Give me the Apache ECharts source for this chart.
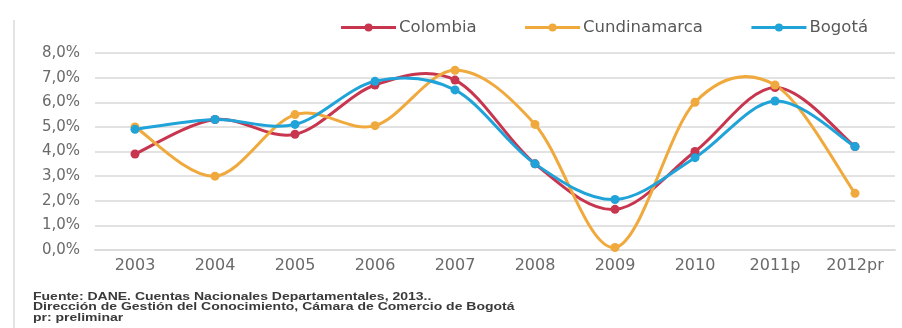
<!DOCTYPE html>
<html>
<head>
<meta charset="utf-8">
<script src="https://cdn.jsdelivr.net/npm/echarts@6/dist/echarts.min.js"></script>
<style>
  html, body { margin: 0; padding: 0; background: #fff; }
  #chart { width: 902px; height: 328px; }
</style>
</head>
<body>
<div id="chart"></div>
<script>
// Crecimiento anual del PIB (%), 2003–2012
const years = ['2003', '2004', '2005', '2006', '2007', '2008', '2009', '2010', '2011p', '2012pr'];
const colombia = [3.9, 5.3, 4.7, 6.7, 6.9, 3.5, 1.65, 4.0, 6.6, 4.2];
const cundinamarca = [5.0, 3.0, 5.5, 5.05, 7.3, 5.1, 0.1, 6.0, 6.7, 2.3];
const bogota = [4.9, 5.3, 5.1, 6.85, 6.5, 3.5, 2.05, 3.75, 6.05, 4.2];
const yTicks = { min: 0, max: 8, step: 1 };
const notes = [
  'Fuente: DANE. Cuentas Nacionales Departamentales, 2013..',
  'Dirección de Gestión del Conocimiento, Cámara de Comercio de Bogotá',
  'pr: preliminar'
];

const FONT = '"DejaVu Sans", "Liberation Sans", sans-serif';
const COLORS = { Colombia: '#c8354f', Cundinamarca: '#f0a93c', 'Bogotá': '#1fa3d8' };

// Smooth curve through every point (Catmull-Rom as cubic Béziers),
// one segment per data item, positioned with the axes' own coordinates.
function curveSeries(name, values) {
  return {
    name: name + ' ',
    type: 'custom',
    z: 2,
    silent: true,
    data: values.map((v, i) => [i, v]),
    renderItem: function (params, api) {
      const i = params.dataIndex;
      if (i >= values.length - 1) return null;
      const p = k => {
        const j = Math.max(0, Math.min(values.length - 1, k));
        return api.coord([j, values[j]]);
      };
      const p0 = p(i - 1), p1 = p(i), p2 = p(i + 1), p3 = p(i + 2);
      const c1 = [p1[0] + (p2[0] - p0[0]) / 6, p1[1] + (p2[1] - p0[1]) / 6];
      const c2 = [p2[0] - (p3[0] - p1[0]) / 6, p2[1] - (p3[1] - p1[1]) / 6];
      return {
        type: 'bezierCurve',
        shape: { x1: p1[0], y1: p1[1], x2: p2[0], y2: p2[1],
                 cpx1: c1[0], cpy1: c1[1], cpx2: c2[0], cpy2: c2[1] },
        style: { fill: null, stroke: COLORS[name], lineWidth: 3, lineCap: 'round' }
      };
    }
  };
}

// Markers (and legend entries) for each series
function pointSeries(name, values) {
  return {
    name: name,
    type: 'line',
    z: 3,
    data: values,
    symbol: 'circle',
    symbolSize: 9,
    lineStyle: { width: 3, color: COLORS[name], opacity: 0 },
    itemStyle: { color: COLORS[name] },
    emphasis: { disabled: true }
  };
}

const chart = echarts.init(document.getElementById('chart'), null, { renderer: 'canvas' });
chart.setOption({
  animation: false,
  backgroundColor: '#fff',
  legend: {
    right: 29,
    top: 14,
    itemWidth: 55,
    itemHeight: 10,
    itemGap: 47,
    lineStyle: { opacity: 1, width: 3 },
    textStyle: { fontFamily: FONT, fontSize: 16.5, color: '#585858', padding: [0, 0, 0, -2] },
    data: ['Colombia', 'Cundinamarca', 'Bogotá']
  },
  grid: { left: 95, right: 7, top: 53, bottom: 78 },
  xAxis: {
    type: 'category',
    data: years,
    boundaryGap: true,
    axisLine: { lineStyle: { color: '#dcdcdc', width: 2 } },
    axisTick: { show: false },
    axisLabel: { margin: 8, fontFamily: FONT, fontSize: 16, color: '#6a6a6a' }
  },
  yAxis: {
    type: 'value',
    min: yTicks.min,
    max: yTicks.max,
    interval: yTicks.step,
    axisLine: { show: false },
    axisTick: { show: false },
    splitLine: { lineStyle: { color: '#e2e2e2', width: 2 } },
    axisLabel: {
      margin: 15,
      fontFamily: FONT,
      fontSize: 15,
      color: '#6a6a6a',
      formatter: v => v.toFixed(1).replace('.', ',') + '%'
    }
  },
  graphic: [
    {
      type: 'line',
      shape: { x1: 14, y1: 20, x2: 14, y2: 328 },
      style: { stroke: '#e4e4e4', lineWidth: 2 }
    }
  ].concat(notes.map((t, i) => ({
    type: 'text',
    left: 33,
    top: 292 + i * 10.5,
    scaleX: 1.4,
    originX: 33,
    style: { text: t, font: 'bold 10px "Liberation Sans", Arial, sans-serif', fill: '#3a3a3a' }
  }))),
  series: [
    curveSeries('Colombia', colombia),
    curveSeries('Cundinamarca', cundinamarca),
    curveSeries('Bogotá', bogota),
    pointSeries('Colombia', colombia),
    pointSeries('Cundinamarca', cundinamarca),
    pointSeries('Bogotá', bogota)
  ]
});
</script>
</body>
</html>
